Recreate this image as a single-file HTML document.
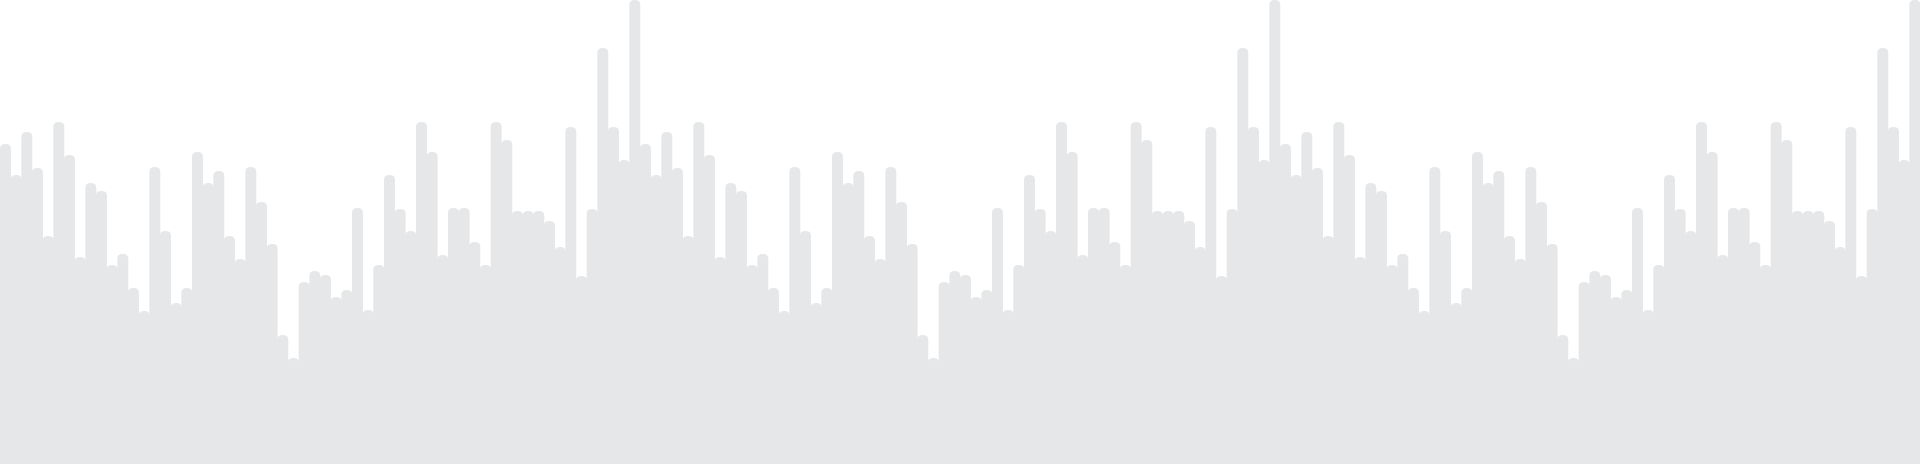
<!DOCTYPE html>
<html><head><meta charset="utf-8"><style>
html,body{margin:0;padding:0;background:#fff;width:1920px;height:464px;overflow:hidden}
svg{display:block}
</style></head><body>
<svg id="chart" width="1920" height="464" viewBox="0 0 1920 464"></svg>
<script>
const baseValues = [320,289,332,296,228,342,309,207,281,273,199,210,176,153,297,233,161,176,312,281,293,228,205,297,262,220,129,106,182,193,189,167,174,256,154,199,289,255,233,342,312,209,256,256,222,199,342,324,253,253,253,243,217,337,188,255,416,337,304,464];
const values = baseValues.concat(baseValues, baseValues);
const categories = values.map((v, i) => 'bar-' + i);
const W = 1920, H = 464, maxV = 464;
const bw = W / values.length;
function xScale(i){ return i * bw; }
function yScale(v){ return H - v / maxV * H; }
const svg = document.getElementById('chart');
const NS = 'http://www.w3.org/2000/svg';
values.forEach((v, i) => {
  const x = xScale(i), y = yScale(v), w = bw + 0.3, r = 5;
  const p = document.createElementNS(NS, 'path');
  p.setAttribute('d', `M${x},${H} L${x},${y+r} Q${x},${y} ${x+r},${y} L${x+w-r},${y} Q${x+w},${y} ${x+w},${y+r} L${x+w},${H} Z`);
  p.setAttribute('fill', '#e6e7e9');
  
  
  svg.appendChild(p);
});
</script>
</body></html>
